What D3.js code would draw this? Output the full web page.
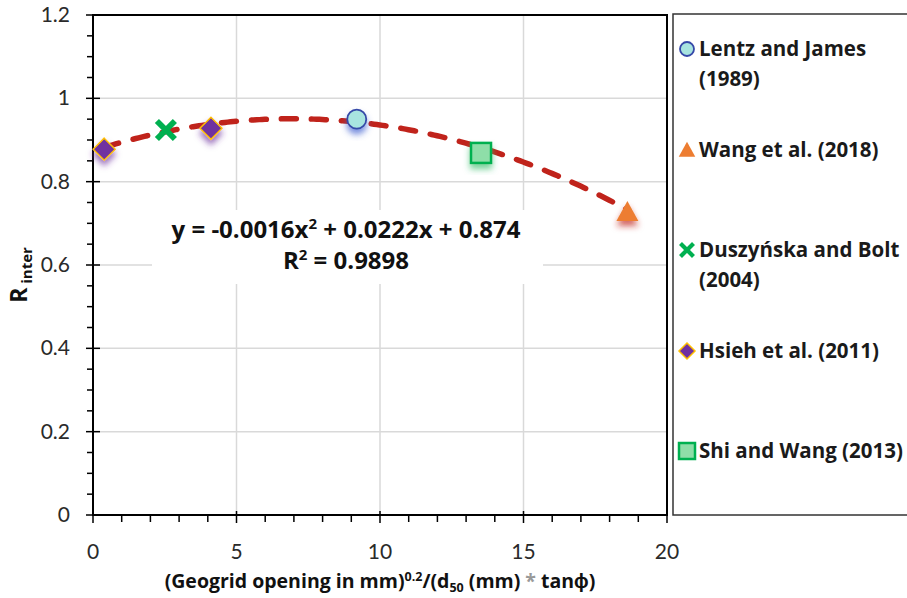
<!DOCTYPE html>
<html lang="en">
<head>
	<title>R inter vs geogrid opening</title>
	<meta charset="utf-8" />
	<script src="https://cdnjs.cloudflare.com/ajax/libs/d3/7.8.5/d3.min.js"></script>
	<style>
		body { margin: 0; background: #fff; }
		svg { display: block; font-family: Lato, "Open Sans", sans-serif; }
		.b { font-family: "Open Sans", sans-serif; font-weight: bold; }
	</style>
</head>
<body>
	<svg width="907" height="598"></svg>
	<script>
		// data
		let lentzX = [9.19], lentzY = [0.950];
		let wangX = [18.62], wangY = [0.727];
		let duszX = [2.54], duszY = [0.924];
		let hsiehX = [0.39, 4.11], hsiehY = [0.878, 0.928];
		let shiX = [13.52], shiY = [0.869];
		// trendline y = a x^2 + b x + c, fitted on the points above
		let trendCoef = [-0.0016, 0.0222, 0.874];
		let trendRange = [0.39, 18.62];
		let xTicks = [0, 5, 10, 15, 20];
		let yTicks = [0, 0.2, 0.4, 0.6, 0.8, 1, 1.2];
		let legendNames = [["Lentz and James", "(1989)"], ["Wang et al. (2018)"], ["Duszyńska and Bolt", "(2004)"], ["Hsieh et al. (2011)"], ["Shi and Wang (2013)"]];

		let svg = d3.select('svg');
		let mLeft = 93, mTop = 15, w = 574, h = 500;
		let x = d3.scaleLinear().domain([0, 20]).range([mLeft, mLeft + w]);
		let y = d3.scaleLinear().domain([0, 1.2]).range([mTop + h, mTop]);

		// shadows
		let defs = svg.append('defs');
		[['sh-purple', '#7030A0'], ['sh-blue', '#4060D0'], ['sh-green', '#40C070'], ['sh-red', '#C0231B']].forEach(s => {
			defs.append('filter').attr('id', s[0]).attr('x', '-60%').attr('y', '-60%').attr('width', '220%').attr('height', '220%')
				.append('feDropShadow').attr('dx', 0).attr('dy', 5).attr('stdDeviation', 3)
				.attr('flood-color', s[1]).attr('flood-opacity', 0.7);
		});

		// grid
		svg.append('g').selectAll('line.gx')
			.data([5, 10, 15]).enter().append('line')
			.attr('x1', d => x(d)).attr('x2', d => x(d))
			.attr('y1', mTop).attr('y2', mTop + h)
			.attr('stroke', '#d9d9d9').attr('stroke-width', 1.5);
		svg.append('g').selectAll('line.gy')
			.data([0.2, 0.4, 0.6, 0.8, 1]).enter().append('line')
			.attr('x1', mLeft).attr('x2', mLeft + w)
			.attr('y1', d => y(d)).attr('y2', d => y(d))
			.attr('stroke', '#d9d9d9').attr('stroke-width', 1.5);

		// frame
		svg.append('rect').attr('x', mLeft).attr('y', mTop).attr('width', w).attr('height', h)
			.attr('fill', 'none').attr('stroke', '#000').attr('stroke-width', 2);

		// legend box
		svg.append('rect').attr('x', 673).attr('y', 14).attr('width', 250).attr('height', 501)
			.attr('fill', 'none').attr('stroke', '#333').attr('stroke-width', 1.5);

		// axes ticks
		let xMinor = d3.range(0, 20.01, 1);
		svg.append('g').selectAll('line').data(xMinor).enter().append('line')
			.attr('x1', d => x(d)).attr('x2', d => x(d))
			.attr('y1', d => d % 5 == 0 ? mTop + h - 4 : mTop + h)
			.attr('y2', d => d % 5 == 0 ? mTop + h + 8 : mTop + h + 7)
			.attr('stroke', '#000').attr('stroke-width', 1.5);
		let yMinor = d3.range(0, 1.2001, 0.05);
		svg.append('g').selectAll('line').data(yMinor).enter().append('line')
			.attr('y1', d => y(d)).attr('y2', d => y(d))
			.attr('x1', (d, i) => i % 4 == 0 ? mLeft - 7 : mLeft - 6)
			.attr('x2', (d, i) => i % 4 == 0 ? mLeft + 7 : mLeft)
			.attr('stroke', '#000').attr('stroke-width', 1.5);

		svg.append('g').selectAll('text').data(xTicks).enter().append('text')
			.attr('x', d => x(d)).attr('y', 559)
			.attr('text-anchor', 'middle').attr('font-size', 21).attr('fill', '#2a2a2a')
			.text(d => d);
		svg.append('g').selectAll('text').data(yTicks).enter().append('text')
			.attr('x', 70).attr('y', d => y(d) + 7)
			.attr('text-anchor', 'end').attr('font-size', 21).attr('fill', '#2a2a2a')
			.text(d => d);

		// axis titles
		let yl = svg.append('text').attr('class', 'b')
			.attr('transform', 'translate(27,275) rotate(-90)')
			.attr('text-anchor', 'middle').attr('fill', '#111');
		yl.append('tspan').attr('font-size', 23).text('R');
		yl.append('tspan').attr('font-size', 15).attr('dy', 5).text(' inter');

		let xl = svg.append('text').attr('class', 'b').attr('x', 380).attr('y', 588)
			.attr('text-anchor', 'middle').attr('font-size', 19.5).attr('fill', '#111');
		xl.append('tspan').text('(Geogrid opening in mm)');
		xl.append('tspan').attr('font-size', 12.5).attr('dy', -7).text('0.2');
		xl.append('tspan').attr('dy', 7).text('/(d');
		xl.append('tspan').attr('font-size', 12.5).attr('dy', 4).text('50');
		xl.append('tspan').attr('dy', -4).text(' (mm) ');
		xl.append('tspan').attr('fill', '#999').text('*');
		xl.append('tspan').text(' tanϕ)');

		// equation label
		svg.append('rect').attr('x', 152).attr('y', 210).attr('width', 391).attr('height', 74).attr('fill', '#fff');
		let eq = svg.append('text').attr('class', 'b').attr('x', 346).attr('y', 238)
			.attr('text-anchor', 'middle').attr('font-size', 24).attr('fill', '#111');
		eq.append('tspan').text('y = -0.0016x');
		eq.append('tspan').attr('font-size', 15).attr('dy', -9).text('2');
		eq.append('tspan').attr('dy', 9).text(' + 0.0222x + 0.874');
		let r2 = svg.append('text').attr('class', 'b').attr('x', 346).attr('y', 269)
			.attr('text-anchor', 'middle').attr('font-size', 24).attr('fill', '#111');
		r2.append('tspan').text('R');
		r2.append('tspan').attr('font-size', 15).attr('dy', -9).text('2');
		r2.append('tspan').attr('dy', 9).text(' = 0.9898');

		// trendline
		let trendX = d3.range(trendRange[0], trendRange[1], 0.1).concat([trendRange[1]]);
		let line = d3.line().x(d => x(d)).y(d => y(trendCoef[0] * d * d + trendCoef[1] * d + trendCoef[2]));
		svg.append('path').datum(trendX).attr('d', line)
			.attr('fill', 'none').attr('stroke', '#C0231B').attr('stroke-width', 5.5)
			.attr('stroke-linecap', 'round').attr('stroke-dasharray', '15,15');

		// marker shapes
		function circle(g, r) {
			g.append('circle').attr('r', r).attr('fill', '#A8E4E0').attr('stroke', '#3548A8').attr('stroke-width', 1.8);
		}
		function triangle(g, s) {
			g.append('path').attr('d', `M0,${-s * 0.55}L${s * 0.55},${s * 0.45}L${-s * 0.55},${s * 0.45}Z`).attr('fill', '#ED7D31');
		}
		function cross(g, s) {
			g.append('path').attr('d', `M${-s},${-s}L${s},${s}M${s},${-s}L${-s},${s}`)
				.attr('stroke', '#00B050').attr('stroke-width', s * 0.65);
		}
		function diamond(g, s) {
			g.append('path').attr('d', `M0,${-s}L${s},0L0,${s}L${-s},0Z`)
				.attr('fill', '#7030A0').attr('stroke', '#FFC000').attr('stroke-width', 1.5);
		}
		function square(g, s) {
			g.append('rect').attr('x', -s).attr('y', -s).attr('width', 2 * s).attr('height', 2 * s)
				.attr('fill', '#8EDEA8').attr('stroke', '#00B050').attr('stroke-width', 2.5);
		}

		function plot(xs, ys, draw, size, shadow) {
			svg.append('g').selectAll('g').data(xs).enter().append('g')
				.attr('transform', (d, i) => `translate(${x(d)},${y(ys[i])})`)
				.attr('filter', shadow ? `url(#${shadow})` : null)
				.each(function () { draw(d3.select(this), size); });
		}
		plot(hsiehX, hsiehY, diamond, 11, 'sh-purple');
		plot(duszX, duszY, cross, 9, null);
		plot(lentzX, lentzY, circle, 9.5, 'sh-blue');
		plot(shiX, shiY, square, 10, 'sh-green');
		plot(wangX, wangY, triangle, 20, 'sh-red');

		// legend
		let legY = [49, 150, 250, 351, 451];
		let legDraw = [[circle, 7], [triangle, 15], [cross, 6.5], [diamond, 8], [square, 8]];
		legendNames.forEach((names, i) => {
			let g = svg.append('g').attr('transform', `translate(687,${legY[i]})`);
			legDraw[i][0](g, legDraw[i][1]);
			names.forEach((n, j) => {
				svg.append('text').attr('class', 'b').attr('x', 699).attr('y', legY[i] + 7 + j * 30)
					.attr('font-size', 20.5).attr('fill', '#1a1a1a')
					.text(n);
			});
		});
	</script>
</body>
</html>
